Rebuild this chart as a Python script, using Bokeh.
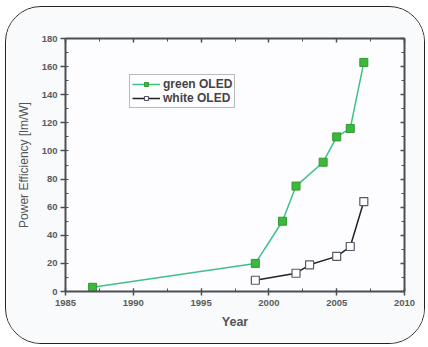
from bokeh.plotting import figure
from bokeh.models import SingleIntervalTicker, LinearAxis, Legend, LegendItem, CustomJSTickFormatter
from bokeh.embed import file_html
from bokeh.resources import INLINE

green_years = [1987, 1999, 2001, 2002, 2004, 2005, 2006, 2007]
green_vals = [3, 20, 50, 75, 92, 110, 116, 163]
white_years = [1999, 2002, 2003, 2005, 2006, 2007]
white_vals = [8, 13, 19, 25, 32, 64]

p = figure(width=420, height=338, x_range=(1985, 2010), y_range=(0, 180),
           output_backend="svg", toolbar_location=None,
           min_border_left=59, min_border_right=22, min_border_top=31, min_border_bottom=54)
p.background_fill_color = "#fdfdff"
p.border_fill_color = "#f9fafc"
p.outline_line_color = None
p.grid.visible = False
p.styles = {"border": "1.5px solid #222", "border-radius": "36px", "overflow": "hidden",
            "margin-left": "5px", "margin-top": "6px"}

axcol = "#4a4e55"
def style_axis(ax):
    ax.axis_line_color = axcol
    ax.axis_line_width = 2
    ax.major_tick_line_color = axcol
    ax.minor_tick_line_color = axcol
    ax.major_tick_line_width = 1.5
    ax.minor_tick_line_width = 1
    ax.major_label_text_font = "Liberation Sans"
    ax.major_label_text_font_size = "9.5px"
    ax.major_label_text_font_style = "bold"
    ax.major_label_text_color = "#5a5a5a"
    ax.axis_label_text_font = "Liberation Sans"
    ax.axis_label_text_color = "#555555"

p.xaxis.ticker = SingleIntervalTicker(interval=5, num_minor_ticks=2)
p.yaxis.ticker = SingleIntervalTicker(interval=20, num_minor_ticks=2)
for ax in p.xaxis:
    style_axis(ax)
    ax.major_tick_out = 4
    ax.major_tick_in = 3
    ax.minor_tick_out = 0
    ax.minor_tick_in = 3
    ax.major_label_standoff = 4
    ax.axis_label = "Year"
    ax.axis_label_text_font_size = "12.5px"
    ax.axis_label_text_font_style = "bold"
    ax.axis_label_standoff = 6
for ax in p.yaxis:
    style_axis(ax)
    ax.major_tick_out = 5
    ax.major_tick_in = 0
    ax.minor_tick_out = 0
    ax.minor_tick_in = 3
    ax.major_label_standoff = 3
    ax.axis_label = "Power Efficiency [lm/W]"
    ax.axis_label_text_font_size = "12px"
    ax.axis_label_text_font_style = "normal"
    ax.axis_label_standoff = 8

blank = CustomJSTickFormatter(code="return ''")
top = LinearAxis(ticker=SingleIntervalTicker(interval=5, num_minor_ticks=2), formatter=blank)
style_axis(top)
top.major_tick_out = 0; top.major_tick_in = 4; top.minor_tick_out = 0; top.minor_tick_in = 3
p.add_layout(top, "above")
right = LinearAxis(ticker=SingleIntervalTicker(interval=20, num_minor_ticks=2), formatter=blank)
style_axis(right)
right.major_tick_out = 0; right.major_tick_in = 4; right.minor_tick_out = 0; right.minor_tick_in = 3
p.add_layout(right, "right")

gl = p.line(green_years, green_vals, line_color="#3ec08a", line_width=1.5)
gm = p.scatter(green_years, green_vals, marker="square", size=8,
               fill_color="#3db83d", line_color="#2f9a2f", line_width=1)
wl = p.line(white_years, white_vals, line_color="#222222", line_width=1.5)
wm = p.scatter(white_years, white_vals, marker="square", size=8,
               fill_color="white", line_color="#555a66", line_width=1.2)

legend = Legend(items=[LegendItem(label="green OLED", renderers=[gl, gm]),
                       LegendItem(label="white OLED", renderers=[wl, wm])],
                location=(64, 183))
legend.label_text_font = "Liberation Sans"
legend.label_text_font_size = "12px"
legend.label_text_font_style = "bold"
legend.label_text_color = "#444444"
legend.glyph_width = 28
legend.glyph_height = 10
legend.label_height = 10
legend.spacing = 0
legend.padding = 2
legend.margin = 0
legend.border_line_color = "#777777"
legend.border_line_width = 1
legend.background_fill_color = "#fdfdff"
legend.label_standoff = 3
p.add_layout(legend, "center")

open("out.html", "w").write(file_html(p, INLINE))
